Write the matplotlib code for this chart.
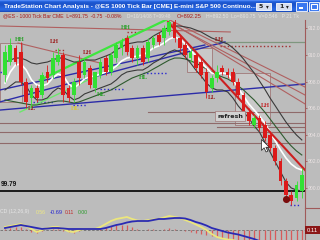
import numpy as np
import matplotlib
matplotlib.use("Agg")
from matplotlib import pyplot as plt
from matplotlib.patches import Rectangle
from matplotlib.lines import Line2D
from matplotlib.path import Path

W, H = 320, 240
BG = '#bcbcbc'
GREEN = '#33e033'
RED = '#dc1a1a'
NARROW = ['Liberation Sans Narrow', 'Liberation Sans', 'DejaVu Sans']
SERIF = ['Liberation Serif', 'DejaVu Serif']

# ---- 1000 tick bars, ES prices ----
opens = [908.50, 909.50, 910.50, 910.25, 908.00, 906.75, 907.50, 907.00, 908.75, 908.50,
         909.50, 910.00, 907.50, 907.00, 909.50, 908.50, 909.00, 907.50, 908.50, 909.75,
         908.75, 909.75, 910.50, 911.25, 910.50, 909.75, 910.50, 909.75, 910.75, 911.50,
         911.25, 911.75, 912.50, 911.25, 910.75, 909.75, 910.00, 909.50, 908.75, 907.50,
         908.25, 909.00, 908.75, 908.75, 908.00, 907.00, 905.75, 904.75, 905.25, 904.75,
         904.00, 903.00, 902.00, 900.50, 899.50, 899.25, 899.75]
highs = [910.75, 911.25, 910.75, 911.00, 908.25, 907.75, 907.75, 908.75, 909.25, 910.25,
         910.50, 910.25, 907.75, 908.25, 910.00, 909.75, 909.25, 908.75, 909.75, 910.00,
         910.25, 911.00, 911.25, 911.50, 910.75, 910.75, 910.75, 911.25, 911.50, 911.75,
         912.25, 912.75, 912.75, 911.50, 911.00, 910.50, 910.25, 909.75, 909.00, 908.50,
         909.25, 909.25, 909.00, 909.00, 908.25, 907.25, 906.00, 905.50, 905.50, 905.00,
         904.25, 903.25, 902.25, 900.75, 899.75, 900.50, 901.50]
lows = [908.00, 909.25, 909.25, 907.75, 906.00, 906.00, 906.50, 906.75, 908.00, 908.25,
        909.25, 906.50, 906.50, 906.50, 907.75, 908.25, 907.50, 907.25, 908.25, 908.50,
        908.50, 909.50, 910.00, 910.00, 909.50, 909.25, 909.25, 909.50, 910.50, 910.75,
        910.75, 911.50, 911.00, 910.25, 909.75, 909.50, 908.75, 908.25, 906.75, 907.25,
        908.00, 908.50, 908.25, 907.75, 906.75, 905.50, 904.75, 904.50, 904.25, 903.50,
        902.75, 901.75, 900.25, 899.25, 898.75, 899.00, 899.25]
closes = [910.25, 910.75, 909.50, 908.00, 906.50, 907.50, 906.75, 908.50, 908.25, 909.75,
          910.00, 907.00, 906.75, 908.00, 908.25, 909.50, 907.75, 908.75, 909.50, 908.75,
          910.00, 910.75, 911.00, 910.25, 909.75, 910.50, 909.50, 911.00, 911.25, 911.00,
          912.00, 912.50, 911.25, 910.50, 910.00, 910.25, 909.00, 908.50, 907.25, 908.25,
          908.75, 908.75, 908.50, 908.00, 907.00, 905.75, 905.00, 905.25, 904.50, 903.75,
          903.00, 902.00, 900.50, 899.50, 899.00, 900.25, 901.00]

# indicator lines
ma_white = [907.89, 908.72, 909.25, 909.32, 908.87, 908.12, 907.74, 907.67, 907.82, 908.27,
            908.57, 908.42, 907.82, 907.52, 907.82, 908.20, 908.35, 908.42, 908.57, 908.72,
            908.87, 909.17, 909.55, 909.77, 909.85, 909.92, 910.00, 910.23, 910.53, 910.68,
            910.90, 911.20, 911.35, 911.20, 910.83, 910.38, 909.92, 909.47, 909.02, 908.65,
            908.57, 908.65, 908.57, 908.12, 907.52, 906.92, 906.32, 905.86, 905.41, 904.89,
            904.21, 903.53, 902.86, 902.26, 901.80, 901.50, 901.35]
band_upper = [909.47, 909.62, 909.77, 909.77, 909.62, 909.40, 909.32, 909.40, 909.47, 909.62,
              909.77, 909.77, 909.62, 909.47, 909.47, 909.62, 909.62, 909.62, 909.77, 909.92,
              910.08, 910.38, 910.60, 910.83, 910.90, 910.98, 910.98, 911.13, 911.43, 911.65,
              911.88, 912.11, 912.18, 912.18, 912.11, 912.03, 911.88, 911.73, 911.50, 911.28,
              911.13, 910.98, 910.83, 910.53, 910.15, 909.70, 909.17, 908.65, 908.05, 907.44,
              906.77, 906.17, 905.56, 904.96, 904.44, 903.98, 903.61]
band_lower = [907.37, 907.67, 907.97, 907.97, 907.67, 906.99, 906.62, 906.62, 906.77, 907.22,
              907.52, 907.37, 906.92, 906.62, 906.77, 907.07, 907.22, 907.37, 907.52, 907.67,
              907.82, 908.12, 908.50, 908.72, 908.80, 908.87, 908.87, 909.10, 909.40, 909.62,
              909.92, 910.23, 910.38, 910.23, 909.85, 909.40, 908.87, 908.42, 907.89, 907.52,
              907.37, 907.37, 907.22, 906.77, 906.17, 905.71, 905.26, 904.66, 904.21, 903.46,
              902.71, 901.95, 901.20, 900.45, 900.00, 899.85, 899.77]
ma_slow = [906.62, 906.54, 906.47, 906.39, 906.32, 906.24, 906.24, 906.32, 906.39, 906.47,
           906.54, 906.54, 906.47, 906.39, 906.47, 906.62, 906.77, 906.92, 907.07, 907.22,
           907.37, 907.59, 907.82, 908.05, 908.27, 908.42, 908.57, 908.72, 908.95, 909.17,
           909.40, 909.62, 909.77, 909.77, 909.70, 909.55, 909.40, 909.17, 908.95, 908.72,
           908.50, 908.35, 908.20, 907.97, 907.67, 907.37, 906.99, 906.62, 906.17, 905.71,
           905.19, 904.66, 904.14, 903.61, 903.16, 902.78, 902.48]

macd_line = [0.3, 0.4, 0.5, 0.6, 0.4, 0.1, -0.2, 0.0, 0.2, 0.3,
             0.3, 0.1, -0.15, -0.2, 0.0, 0.1, 0.1, 0.1, 0.3, 0.6,
             0.9, 1.1, 1.2, 1.3, 1.1, 0.95, 0.9, 1.0, 1.05, 1.1,
             1.25, 1.4, 1.3, 1.2, 1.0, 0.8, 0.55, 0.3, 0.0, -0.4,
             -0.7, -0.85, -0.95, -1.0, -1.15, -1.3, -1.4, -1.5, -1.6, -1.7,
             -1.8, -1.8, -1.8, -1.7, -1.6, -1.5, -1.4]
macd_avg = [0.2, 0.3, 0.4, 0.5, 0.4, 0.3, 0.2, 0.1, 0.15, 0.2,
            0.2, 0.15, 0.1, 0.1, 0.1, 0.1, 0.1, 0.1, 0.1, 0.2,
            0.35, 0.5, 0.6, 0.75, 0.85, 0.9, 0.9, 0.9, 1.0, 1.1,
            1.1, 1.15, 1.2, 1.2, 1.15, 1.0, 0.8, 0.65, 0.45, 0.2,
            0.05, -0.1, -0.25, -0.35, -0.45, -0.6, -0.75, -0.9, -1.1, -1.25,
            -1.4, -1.5, -1.6, -1.7, -1.8, -1.9, -2.0]
macd_hist = [0.1, 0.2, 0.3, 0.3, 0.1, -0.15, -0.3, -0.1, 0.05, 0.1,
             0.1, -0.05, -0.2, -0.25, -0.1, 0.0, 0.0, 0.0, 0.15, 0.3,
             0.45, 0.5, 0.55, 0.5, 0.3, 0.15, 0.05, 0.1, 0.1, 0.05,
             0.15, 0.2, 0.1, 0.0, -0.1, -0.2, -0.3, -0.4, -0.5, -0.6,
             -0.7, -0.8, -0.9, -1.0, -1.2, -1.2, -1.2, -1.2, -1.2, -1.2,
             -1.2, -1.2, -1.2, -1.2, -1.2, -1.2, -1.2]

# drawn objects: (bar, price) end points
green_lines = [((6.6, 908.12), (30.75, 912.71)), ((2.83, 905.71), (21.7, 909.25))]
blue_lines = [((-0.94, 905.86), (56.6, 907.82)), ((-0.94, 907.37), (37.7, 910.75)),
              ((-0.94, 906.47), (41.5, 910.98))]
red_trend = ((30.75, 912.48), (56.6, 901.35))
brown_lines = [((31.1, 912.63), (56.6, 907.59)), ((31.5, 912.33), (56.6, 906.99)),
               ((33.0, 912.03), (56.6, 906.32)), ((-0.94, 912.18), (42.5, 911.73)),
               ((2.45, 910.90), (17.9, 909.40))]
levels = [(904.89, -0.94), (904.21, -0.94), (903.38, -0.94), (905.71, 27.0), (904.59, 40.0)]
level_hi = (910.98, 39.6)
last_level = 899.79
blue_dots = [(906.47, 5.3, 9.1), (906.24, 12.8, 15.5), (907.44, 17.9, 22.3),
             (908.65, 26.0, 30.6), (908.72, -0.9, 0.2), (898.70, 53.8, 55.7)]
red_dots = [(910.38, 9.4, 11.3), (911.73, 23.0, 25.5), (910.68, 40.6, 53.8)]
boxes = [(-0.94, 906.47, 4.14, 4.43), (34.3, 908.72, 4.8, 1.81), (43.4, 904.74, 6.6, 3.91)]
swing_labels = [("HH", 2.8, 911.2, '#2aa02a'), ("LL", 5.1, 906.0, '#9c1c1c'),
                ("LH", 9.4, 911.0, '#9c1c1c'), ("HL", 13.2, 906.0, '#d4c640'),
                ("LH", 15.5, 910.15, '#9c1c1c'), ("HL", 18.1, 907.0, '#2aa02a'),
                ("HH", 22.8, 912.1, '#2aa02a'), ("HL", 26.2, 908.27, '#2aa02a'),
                ("LH", 40.4, 911.2, '#9c1c1c'), ("LL", 39.0, 906.77, '#9c1c1c'),
                ("LH", 49.2, 906.17, '#c02020')]
signal_dot = (53.0, 899.15)
cursor_at = (48.3, 903.68)

fig = plt.figure(figsize=(W / 100, H / 100), dpi=100, facecolor=BG)
renderer = fig.canvas.get_renderer()


def fx(x):
    return x / W


def fy(y):
    return 1 - y / H


def fit_size(s, width, **kw):
    t = fig.text(0, 0, s, fontsize=10, **kw)
    w = t.get_window_extent(renderer).width
    t.remove()
    return 10 * width / w


def px_text(x0, x1, y, s, ha='left', **kw):
    size = fit_size(s, x1 - x0, **kw)
    x = x0 if ha == 'left' else x1
    return fig.text(fx(x), fy(y), s, fontsize=size, ha=ha, va='center', **kw)


# ---- title bar ----
tb = fig.add_axes([0, fy(12), 1, 12 / H])
tb.set_xlim(0, W)
tb.set_ylim(12, 0)
tb.axis('off')
grad = np.array([[0.30, 0.52, 0.95], [0.16, 0.40, 0.88], [0.12, 0.35, 0.82],
                 [0.11, 0.33, 0.80], [0.11, 0.33, 0.80], [0.12, 0.34, 0.81],
                 [0.13, 0.36, 0.84], [0.14, 0.38, 0.86], [0.15, 0.40, 0.88],
                 [0.16, 0.41, 0.89], [0.14, 0.37, 0.84], [0.10, 0.30, 0.75]])
tb.imshow(grad[:, None, :], extent=(0, W, 12, 0), aspect='auto')
for bx in (256, 276):
    tb.add_patch(Rectangle((bx, 2.5), 15, 7.5, facecolor='#d7def0', edgecolor='white', lw=0.6))
tb.text(261, 6.4, "5", fontsize=4.5, color='#202020', ha='center', va='center', weight='bold')
tb.text(281, 6.4, "1", fontsize=4.5, color='#202020', ha='center', va='center', weight='bold')
for bx in (267, 287):
    tb.text(bx, 6.4, "\u25be", fontsize=4, color='#202020', ha='center', va='center')
tb.add_patch(Rectangle((296, 1.5), 10.5, 9, facecolor='#3a78f0', edgecolor='white', lw=0.6))
tb.add_patch(Rectangle((298.5, 7.3), 4, 1.3, facecolor='white', lw=0))
tb.add_patch(Rectangle((308.5, 1.5), 10.5, 9, facecolor='#3a78f0', edgecolor='white', lw=0.6))
tb.add_patch(Rectangle((310.7, 3.6), 6, 5, facecolor='none', edgecolor='white', lw=0.8))
px_text(4, 254, 6.3, "TradeStation Chart Analysis - @ES 1000 Tick Bar [CME] E-mini S&P 500 Continuo...",
        color='white', weight='bold', family=NARROW, zorder=5)

# ---- info line ----
px_text(3, 123, 16, "@ES - 1000 Tick Bar CME  L=891.75  -0.75  -0.08%", color='#a81a1a', family=NARROW)
px_text(127, 170, 16, "D=10/14/08 T=09:48", color='#e2e2e2', family=NARROW)
px_text(177, 202, 16, "O=892.25", color='#a81a1a', family=NARROW)
px_text(206, 300, 16, "H=892.50  Lo=890.75  V=0.546   P 21 Tk", color='#e2e2e2', family=NARROW)

# ---- price panel ----
ax = fig.add_axes([0, fy(207), fx(305), (207 - 20) / H])
ax.set_facecolor(BG)
ax.set_xlim(-0.94, 56.6)
ax.set_ylim(898.57, 912.63)
for s in ('top', 'left', 'bottom'):
    ax.spines[s].set_visible(False)
ax.spines['right'].set_color('#a05a5a')
ax.spines['right'].set_linewidth(0.8)
ax.yaxis.tick_right()
ticks = np.arange(900, 913, 2)
ax.set_yticks(ticks)
ax.set_yticklabels([f'{v:.1f}' for v in ticks], family=NARROW)
ax.tick_params(axis='y', colors='#a05a5a', labelcolor='#ece4e4', length=1.5, width=0.6,
               pad=0.8, labelsize=3.6)
ax.set_xticks([])

x = np.arange(len(opens))

for bx, by, bw, bh in boxes:
    ax.add_patch(Rectangle((bx, by), bw, bh, facecolor='#c9c9c9', edgecolor='#a07878',
                           lw=0.6, zorder=1))

for p, start in levels:
    ax.plot([start, 56.6], [p, p], color='#8f6a6a', lw=0.8, zorder=2)
ax.plot([level_hi[1], 56.6], [level_hi[0]] * 2, color='#7f977f', lw=0.9, zorder=2)
ax.axhline(last_level, color='black', lw=1.2, zorder=2)

for p, a, b in blue_dots:
    ax.plot([a, b], [p, p], color='#2a2ad0', lw=1.0, ls=(0, (1, 1.6)), zorder=3)
for p, a, b in red_dots:
    ax.plot([a, b], [p, p], color='#a03030', lw=1.0, ls=(0, (1, 1.6)), zorder=3)

for (a, pa), (b, pb) in blue_lines:
    ax.plot([a, b], [pa, pb], color='#2c2ca8', lw=1.0, zorder=3)
for (a, pa), (b, pb) in brown_lines:
    ax.plot([a, b], [pa, pb], color='#b06060', lw=0.8, zorder=3)
(a, pa), (b, pb) = green_lines[1]
ax.plot([a, b], [pa, pb], color='#6ee66e', lw=1.0, zorder=3)
(a, pa), (b, pb) = green_lines[0]
ax.plot([a, b], [pa, pb], color='#3ee63e', lw=1.6, zorder=3)

ax.plot(x, ma_slow, color='#2f5a2f', lw=0.8, zorder=3.5)
ax.plot(x, band_upper, color='#3a3a3a', lw=0.8, zorder=3.5)
ax.plot(x, band_lower, color='#3a3a3a', lw=0.8, zorder=3.5)
ax.plot(x, ma_white, color='white', lw=1.2, zorder=3.6)
(a, pa), (b, pb) = red_trend
ax.plot([a, b], [pa, pb], color='#cc2020', lw=1.5, zorder=4)

o = np.array(opens)
c = np.array(closes)
col = np.where(c >= o, GREEN, RED)
ax.vlines(x, lows, highs, colors=col, lw=0.6, zorder=5)
ax.bar(x, np.maximum(np.abs(c - o), 0.12), bottom=np.minimum(o, c), width=0.7,
       color=col, lw=0, zorder=6)

for s, bi, p, colr in swing_labels:
    ax.text(bi, p, s, color=colr, fontsize=4.6, weight='bold', family=SERIF,
            ha='center', va='center', zorder=7)

ax.text(42.45, 905.41, "refresh", fontsize=4.6, weight='bold', color='#202020',
        ha='center', va='center', zorder=7,
        bbox=dict(boxstyle='square,pad=0.35', facecolor='#d2d2d2', edgecolor='#a07878', lw=0.5))

ax.scatter([signal_dot[0]], [signal_dot[1]], s=26, color='#7a0c0c', zorder=8, lw=0)

cur = Path([(0, 0), (0, -11), (2.6, -8.4), (4.6, -12.6), (6.4, -11.8), (4.4, -7.8), (8, -7.8), (0, 0)],
           [Path.MOVETO] + [Path.LINETO] * 6 + [Path.CLOSEPOLY])
ax.plot([cursor_at[0]], [cursor_at[1]], marker=cur, ms=18, mfc='white', mec='#202020',
        mew=0.5, zorder=9, ls='none')

# the last-price label is cut by the window edge; only this part shows
px_text(0.5, 17, 185, "99.79", weight='bold', color='#111111', family=NARROW)

# ---- MACD panel ----
mx = fig.add_axes([0, 0, fx(305), 33 / H])
mx.set_facecolor(BG)
mx.set_xlim(-0.94, 56.6)
mx.set_ylim(-1.0, 2.3)
for s in ('top', 'left', 'bottom'):
    mx.spines[s].set_visible(False)
mx.spines['right'].set_color('#a05a5a')
mx.spines['right'].set_linewidth(0.8)
mx.set_xticks([])
mx.set_yticks([])
mx.axhline(0, color='#6e6e6e', lw=0.6, ls=(0, (3, 2)))
mx.vlines(x, 0, macd_hist, colors='#d85a5a', lw=0.9)
mx.plot(x, macd_line, color='#ece67c', lw=1.3)
mx.plot(x, macd_avg, color='#2a2ab4', lw=1.3)

px_text(0.5, 30, 212, "CD (12,26,9)", color='#e6e6e6', family=NARROW)
px_text(36, 46, 212, "0.56", color='#f0ea80', family=NARROW)
px_text(50, 63, 212, "-0.69", color='#2a2ad0', family=NARROW)
px_text(65, 74, 212, "0.11", color='#c02828', family=NARROW)
px_text(78, 88, 212, "0.00", color='#2a9a2a', family=NARROW)

fig.add_artist(Line2D([fx(305), 1], [fy(208), fy(208)], color='#a05a5a', lw=0.8,
                      transform=fig.transFigure))
fig.add_artist(Rectangle((fx(305), fy(234)), 15 / W, 8 / H, facecolor='#8b1616', lw=0,
                         transform=fig.transFigure))
px_text(307, 318, 230, "0.11", color='white', family=NARROW)

fig.savefig('out.png', dpi=100, facecolor=BG)
